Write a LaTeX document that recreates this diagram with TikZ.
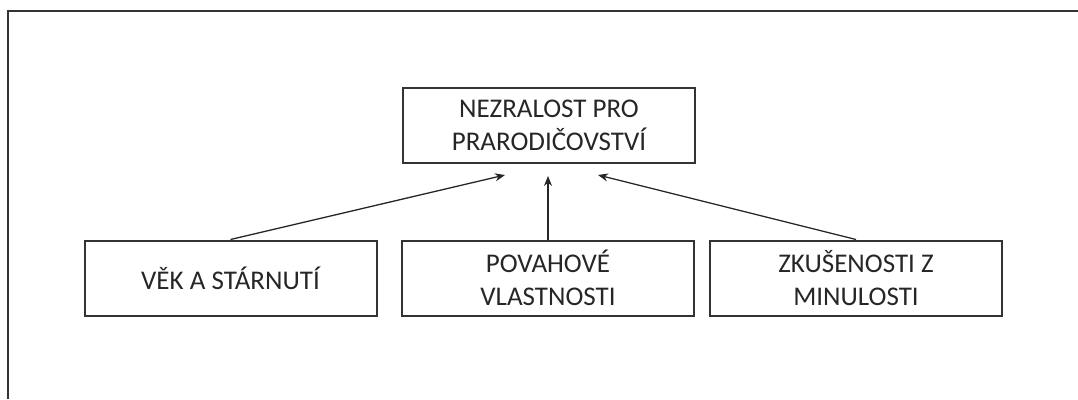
\documentclass[tikz,border=0pt]{standalone}
\usepackage{fontspec}
\setmainfont{Carlito}
\usepackage{xcolor}
\usepackage{tikz}
\usetikzlibrary{arrows.meta}
\definecolor{boxgray}{HTML}{333333}

\begin{document}
\begin{tikzpicture}[x=1pt, y=-1pt,
  font=\fontsize{27}{33}\selectfont,
  faktor/.style={draw=boxgray, line width=2pt, minimum width=292pt, minimum height=75pt, align=center, inner sep=0pt, text=black!85},
  vliv/.style={line width=1.3pt, draw=black!85, -{Stealth[length=10pt, width=8pt]}}]
\useasboundingbox (0,0) rectangle (1078,399);
% frame
\draw[boxgray, line width=2pt] (7.5,399) -- (7.5,10.5) -- (1078,10.5);
% nodes
\node[faktor] (nezralost) at (549,125.5) {NEZRALOST PRO\\PRARODIČOVSTVÍ};
\node[faktor] (vek) at (230.5,278) {VĚK A STÁRNUTÍ};
\node[faktor] (povaha) at (548,278) {POVAHOVÉ\\VLASTNOSTI};
\node[faktor] (zkusenosti) at (856,278) {ZKUŠENOSTI Z\\MINULOSTI};
\coordinate (cilL) at (505,175);
\coordinate (cilM) at (548,176);
\coordinate (cilR) at (598,175);
% arrows
\draw[vliv] (vek.north) -- (cilL);
\draw[vliv] (povaha.north) -- (cilM);
\draw[vliv] (zkusenosti.north) -- (cilR);
\end{tikzpicture}
\end{document}
